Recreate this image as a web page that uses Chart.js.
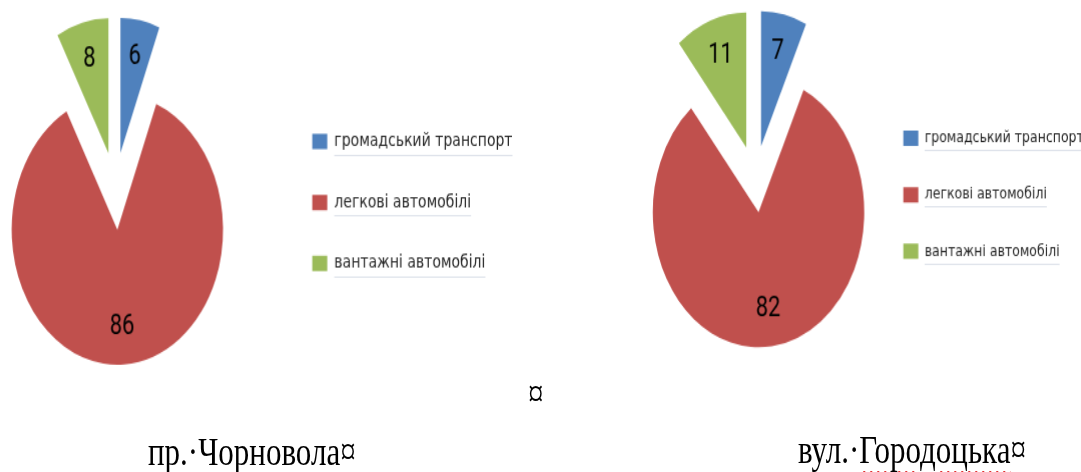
<!DOCTYPE html>
<html lang="uk">
<head>
<meta charset="UTF-8">
<title>Склад транспортного потоку</title>
<script src="https://cdn.jsdelivr.net/npm/chart.js@4.4.1/dist/chart.umd.min.js"></script>
<style>
  html, body { margin: 0; background: #fff; }
  #wrap { position: relative; width: 1081px; height: 472px; overflow: hidden; }
  /* вся сторінка розтягнута по вертикалі, як у вихідному знімку */
  #page { position: absolute; left: 0; top: 0; width: 1081px; height: 369px; transform: scaleY(1.28); transform-origin: 0 0; }
  .box { position: absolute; top: 0; }
  .caption { position: absolute; font-family: "Liberation Serif", "Times New Roman", serif; font-size: 31px; line-height: 1; color: #000; white-space: nowrap; }
  .spell { text-decoration: underline wavy #e02020; text-decoration-thickness: 1px; text-underline-offset: 5px; }
</style>
</head>
<body>
<div id="wrap">
<div id="page">
  <div class="box" id="box-left" style="left:-48px; height:293px;"><canvas id="chart-left"></canvas></div>
  <div class="box" id="box-right" style="left:639px; height:280px;"><canvas id="chart-right"></canvas></div>
  <div class="caption" style="left:528px; top:292px;">¤</div>
  <div class="caption" style="left:148px; top:337px;">пр.·Чорновола¤</div>
  <div class="caption" style="left:798px; top:336px;">вул.·<span class="spell">Городоцька</span>¤</div>
</div>
</div>

<script>
  // дані
  const categories = ['громадський транспорт', 'легкові автомобілі', 'вантажні автомобілі'];
  const chornovolaValues = [6, 86, 8];
  const horodotskaValues = [7, 82, 11];
  const sliceColors = ['#4F81BD', '#C0504D', '#9BBB59'];

  const legendFamily = 'DejaVu Sans';

  // зсув секторів від центру (px)
  const explodePlugin = {
    id: 'explode',
    afterDatasetsUpdate(chart) {
      const meta = chart.getDatasetMeta(0);
      const dist = chart.data.datasets[0].explode || [];
      meta.data.forEach((arc, i) => {
        const mid = (arc.startAngle + arc.endAngle) / 2;
        arc.x += Math.cos(mid) * (dist[i] || 0);
        arc.y += Math.sin(mid) * (dist[i] || 0);
      });
    }
  };

  // підписи значень на секторах
  const sliceLabels = {
    id: 'sliceLabels',
    afterDatasetsDraw(chart) {
      const ctx = chart.ctx;
      const meta = chart.getDatasetMeta(0);
      const values = chart.data.datasets[0].data;
      ctx.save();
      ctx.font = '22px Roboto';
      ctx.fillStyle = '#000';
      ctx.textAlign = 'center';
      ctx.textBaseline = 'middle';
      meta.data.forEach((arc, i) => {
        const mid = (arc.startAngle + arc.endAngle) / 2;
        const r = arc.outerRadius * 0.72;
        ctx.fillText(values[i], arc.x + Math.cos(mid) * r, arc.y + Math.sin(mid) * r);
      });
      ctx.restore();
    }
  };

  // тонка сіра лінія під текстом легенди (як у Word)
  const legendUnderline = {
    id: 'legendUnderline',
    afterDraw(chart) {
      const legend = chart.legend;
      if (!legend || !legend.legendHitBoxes) return;
      const labels = legend.options.labels;
      const size = labels.font.size;
      const ctx = chart.ctx;
      ctx.save();
      ctx.strokeStyle = '#dde2ea';
      ctx.lineWidth = 1;
      legend.legendHitBoxes.forEach((hb) => {
        const x0 = hb.left + labels.boxWidth + size / 2;
        const y = Math.round(hb.top + size + 3) + 0.5;
        ctx.beginPath();
        ctx.moveTo(x0, y);
        ctx.lineTo(hb.left + hb.width, y);
        ctx.stroke();
      });
      ctx.restore();
    }
  };

  function textWidth(size) {
    const m = document.createElement('canvas').getContext('2d');
    m.font = size + 'px ' + legendFamily;
    return Math.max(...categories.map((c) => m.measureText(c).width));
  }

  function makePie(canvasId, boxId, values, cfg) {
    // ширина контейнера: область діаграми + легенда
    const itemW = 15 + cfg.legendFont / 2 + textWidth(cfg.legendFont);
    document.getElementById(boxId).style.width = (cfg.areaWidth + cfg.legendGap + 10 + itemW) + 'px';

    new Chart(document.getElementById(canvasId), {
      type: 'pie',
      data: {
        labels: categories,
        datasets: [{
          data: values,
          backgroundColor: sliceColors,
          borderWidth: 0,
          radius: cfg.radius,
          explode: cfg.explode,
        }],
      },
      options: {
        responsive: true,
        maintainAspectRatio: false,
        animation: false,
        events: [],
        layout: { padding: 0 },
        plugins: {
          tooltip: { enabled: false },
          legend: {
            position: 'right',
            align: 'start',
            title: { display: true, text: '', font: { size: 10 }, padding: { top: cfg.legendTop, bottom: 0 } },
            labels: {
              boxWidth: 15,
              boxHeight: 12,
              padding: cfg.legendGap,
              color: '#262626',
              font: { family: legendFamily, size: cfg.legendFont },
            },
          },
        },
      },
      plugins: [explodePlugin, sliceLabels, legendUnderline],
    });
  }

  makePie('chart-left', 'box-left', chornovolaValues,
    { radius: 105.5, explode: [27.5, 33, 27.5], areaWidth: 326, legendTop: 58, legendGap: 33.6, legendFont: 14 });
  makePie('chart-right', 'box-right', horodotskaValues,
    { radius: 105.5, explode: [26.4, 26, 26.4], areaWidth: 232, legendTop: 58, legendGap: 31.7, legendFont: 12.5 });
</script>
</body>
</html>
